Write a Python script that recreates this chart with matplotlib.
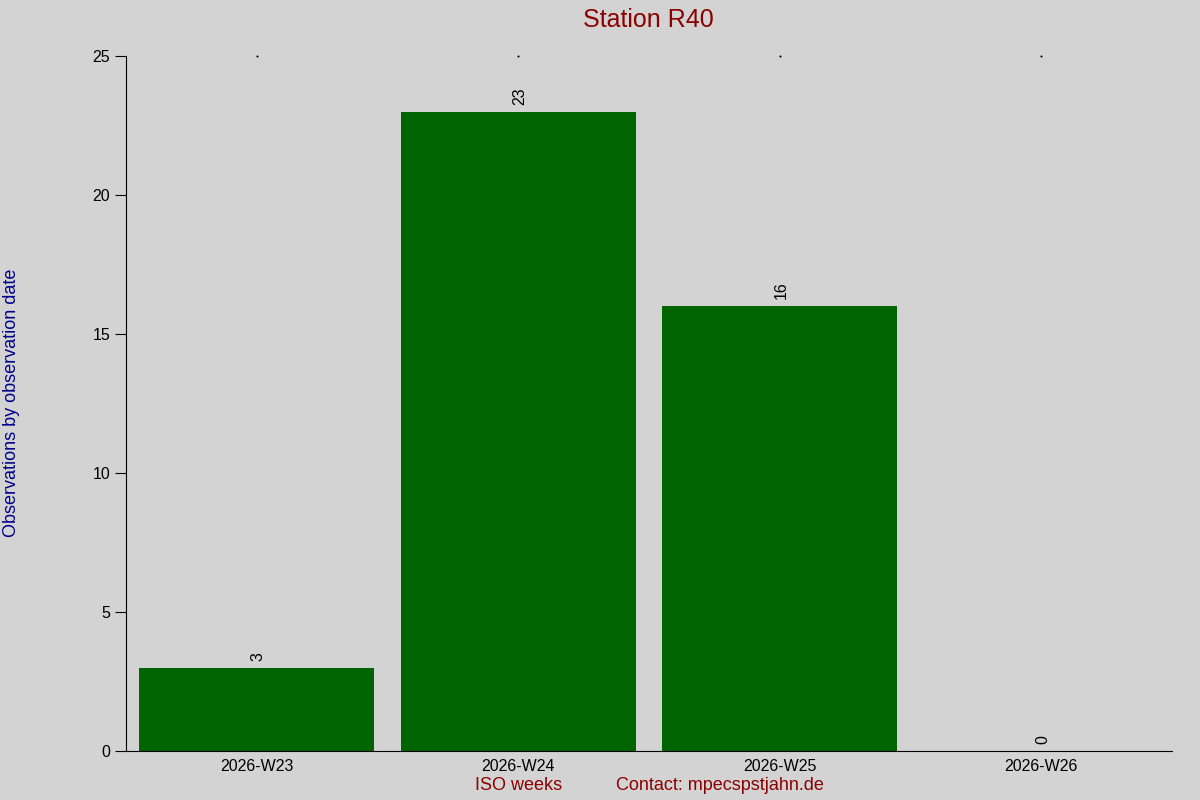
import matplotlib.pyplot as plt

weeks = ["2026-W23", "2026-W24", "2026-W25", "2026-W26"]
counts = [3, 23, 16, 0]

plt.rcParams['font.family'] = ['Liberation Sans', 'DejaVu Sans']

fig = plt.figure(figsize=(12, 8), dpi=100, facecolor='#d3d3d3')
ax = fig.add_axes([0.105, 0.06125, 0.8717, 0.86875])
ax.set_facecolor('#d3d3d3')

x = list(range(len(weeks)))
bars = ax.bar(x, counts, width=0.9, color='#006400')
for xi, c in zip(x, counts):
    ax.text(xi + 0.005, c + 0.25, str(c), rotation=90, ha='center', va='bottom', fontsize=11.5)

ax.set_xlim(-0.5, 3.5)
ax.set_ylim(0, 25)
ax.set_yticks(range(0, 26, 5))
ax.set_xticks(x)
ax.set_xticklabels(weeks, fontsize=11.5)
ax.tick_params(axis='y', direction='out', length=8, labelsize=11.5)
ax.tick_params(axis='x', length=0, pad=6)
for spine in ['top', 'right']:
    ax.spines[spine].set_visible(False)
# tiny marks at the top edge
ax.plot(x, [25] * len(x), linestyle='none', marker='s', markersize=0.5, color='black', clip_on=False)

fig.text(0.54, 0.975, "Station R40", ha='center', va='center', fontsize=18, color='#8b0000')
fig.text(0.0095, 0.497, "Observations by observation date", rotation=90, ha='center', va='center',
         fontsize=13, color='#00008b')
fig.text(0.432, 0.018, "ISO weeks", ha='center', va='center', fontsize=13, color='#8b0000')
fig.text(0.6, 0.018, "Contact: mpecspstjahn.de", ha='center', va='center', fontsize=13, color='#8b0000')

fig.savefig("out.png", dpi=100, facecolor=fig.get_facecolor())
